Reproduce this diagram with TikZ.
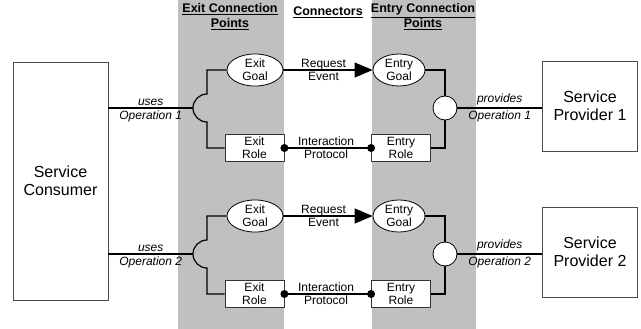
\documentclass[tikz,border=0pt]{standalone}
\usepackage{fontspec}
\setmainfont{Liberation Sans}
\usetikzlibrary{arrows.meta}
\usetikzlibrary{shapes.geometric}
\definecolor{bandgray}{RGB}{192,192,192}
\tikzset{
      band/.style={fill=bandgray},
      title/.style={font=\fontsize{12.5}{15}\selectfont\bfseries, align=center, inner sep=0},
      party/.style={draw=black!70, line width=0.9, fill=white, align=center,
            font=\fontsize{16}{18}\selectfont, minimum width=95},
      goal/.style={ellipse, draw=black, line width=0.8, fill=white, align=center, inner sep=0,
            minimum width=56, minimum height=32, font=\fontsize{12}{13}\selectfont},
      role/.style={rectangle, draw=black!80, line width=0.8, fill=white, align=center, inner sep=0,
            minimum width=59, minimum height=27, font=\fontsize{12}{13}\selectfont},
      joint/.style={circle, draw=black, line width=0.8, fill=white, minimum size=24, inner sep=0},
      wire/.style={draw=black, line width=1.2},
      event/.style={wire, -{Triangle[length=18,width=15]}},
      lbl/.style={font=\fontsize{12}{13}\selectfont, align=center},
      oplbl/.style={font=\fontsize{12}{13}\selectfont\itshape, inner sep=2},
}

\begin{document}
\begin{tikzpicture}[x=1pt, y=-1pt]
        \useasboundingbox (0,0) rectangle (641,329);

        % Background bands
        \fill[band] (178,0) rectangle (284,329);
        \fill[band] (372,0) rectangle (476,329);

        \node[title] (xtitle) at (230,17) {\underline{Exit Connection}\\\underline{Points}};
        \node[title] (ctitle) at (328,12) {\underline{Connectors}};
        \node[title] (ntitle) at (423,17) {\underline{Entry Connection}\\\underline{Points}};

        % Consumer
        \node[party, minimum height=238] (consumer) at (60.5,181) {Service\\Consumer};

        % Draw the two operations
        \foreach \n/\y in {1/0,2/146}{
            \node[goal] (xgoal\n) at (255,70+\y) {Exit\\Goal};
            \node[role] (xrole\n) at (254.5,148+\y) {Exit\\Role};
            \node[goal, minimum width=52] (ngoal\n) at (399,70+\y) {Entry\\Goal};
            \node[role] (nrole\n) at (401,148+\y) {Entry\\Role};
            \node[joint] (joint\n) at (445,108+\y) {};
            \node[party, minimum height=90] (provider\n) at (590,106+\y) {Service\\Provider \n};
            \coordinate (sock\n) at (193,108+\y);
            \coordinate (socklow\n) at (207,122+\y);

            \draw[wire] (consumer.east |- sock\n) --
                  node[oplbl, above] {uses}
                  node[oplbl, below] {Operation \n} (sock\n);
            \draw[wire] (xrole\n.west) -| (socklow\n)
                  arc[start angle=90, end angle=270, radius=14] |- (xgoal\n.west);

            \draw[event] (xgoal\n.east) -- node[lbl, pos=0.45] {Request\\Event} (ngoal\n.west);
            \draw[wire] (xrole\n.east) -- node[lbl, pos=0.48] {Interaction\\Protocol} (nrole\n.west);
            \fill (xrole\n.east) circle (4);
            \fill (nrole\n.west) circle (4);

            \draw[wire] (ngoal\n.east) -| (joint\n.north);
            \draw[wire] (joint\n.south) |- (nrole\n.east);
            \draw[wire] (joint\n.east) --
                  node[oplbl, above] {provides}
                  node[oplbl, below] {Operation \n} (provider\n.west |- joint\n);
        }

    \end{tikzpicture}
\end{document}
